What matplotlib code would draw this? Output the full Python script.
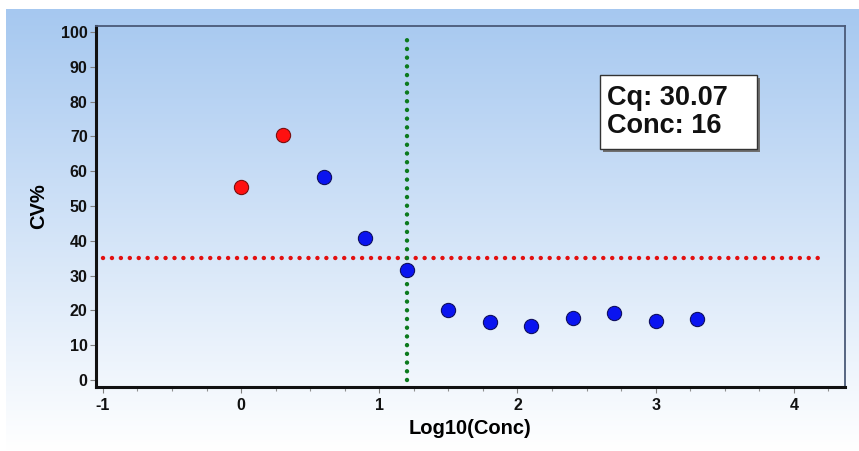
import numpy as np
import matplotlib
matplotlib.use("Agg")
import matplotlib.pyplot as plt
from matplotlib.patches import Rectangle
from matplotlib.ticker import MultipleLocator

plt.rcParams['font.family'] = ['Liberation Sans', 'DejaVu Sans']
plt.rcParams['axes.unicode_minus'] = False

# data
x_excl = [0.0, 0.3]
cv_excl = [55.5, 70.3]
x_incl = [0.6, 0.9, 1.2, 1.5, 1.8, 2.1, 2.4, 2.7, 3.0, 3.3]
cv_incl = [58.2, 40.8, 31.7, 20.2, 16.7, 15.6, 17.9, 19.4, 16.9, 17.4]
cv_limit = 35
lod_x = 1.2
xticks = [-1, 0, 1, 2, 3, 4]
yticks = list(range(0, 101, 10))
label_text = "Cq: 30.07\nConc: 16"

W, H = 859, 451
fig = plt.figure(figsize=(W / 100, H / 100), dpi=100)
fig.patch.set_facecolor("white")

# background gradient, light blue at top -> white at bottom
bg = fig.add_axes([6 / W, 0, 1 - 6 / W, 1 - 9 / H], zorder=-10)
top = np.array([166, 200, 240]) / 255
bot = np.array([255, 255, 255]) / 255
t = np.linspace(0, 1, 256)[:, None]
grad = top * (1 - t) + bot * t
bg.imshow(grad[:, None, :], aspect="auto", extent=[0, 1, 0, 1])
bg.axis("off")

ax = fig.add_axes([96 / W, 1 - 387 / H, (845 - 96) / W, (387 - 26) / H])
ax.patch.set_alpha(0)

ax.axhline(cv_limit, xmin=0.01, xmax=0.975, color="#e31010", lw=3.2,
           linestyle=(0, (0.01, 2.0)), dash_capstyle="round", zorder=2)
ax.plot([lod_x, lod_x], [0, 100], color="#0c7a1e", lw=3.2,
        linestyle=(0, (0.01, 1.95)), dash_capstyle="round", zorder=2)

ax.scatter(x_excl, cv_excl, s=105, color="#ff1010", edgecolor="#7a1010",
           linewidth=0.8, zorder=3)
ax.scatter(x_incl, cv_incl, s=105, color="#0a14f0", edgecolor="#101060",
           linewidth=0.8, zorder=4)

ax.set_xlim(-1.05, 4.37)
ax.set_ylim(-2, 101.7)
ax.set_xticks(xticks)
ax.set_yticks(yticks)
ax.xaxis.set_minor_locator(MultipleLocator(0.25))
for lab in ax.get_xticklabels() + ax.get_yticklabels():
    lab.set_fontweight("bold")
ax.tick_params(axis="both", which="major", labelsize=11.5, length=4,
               color="#808080", width=0.8, labelcolor="#111111")
ax.tick_params(axis="x", which="minor", length=3, color="#909090", width=0.8)
ax.tick_params(axis="x", pad=4)
ax.tick_params(axis="y", pad=2)

for side in ["left", "bottom"]:
    ax.spines[side].set_linewidth(2.2)
    ax.spines[side].set_color("#111111")
for side in ["top", "right"]:
    ax.spines[side].set_linewidth(1.3)
    ax.spines[side].set_color("#4a5a78")

ax.set_xlabel("Log10(Conc)", fontsize=14.5, fontweight="bold", labelpad=4)
ax.set_ylabel("CV%", fontsize=14.5, fontweight="bold", labelpad=9)

# info box with shadow (figure pixel coords)
bx0, bx1, by0, by1 = 600, 757, 75, 149
fig.patches.append(Rectangle((bx0 + 3, H - by1 - 3), bx1 - bx0, by1 - by0,
                             transform=None, facecolor="#707070",
                             edgecolor="none", zorder=5))
fig.patches.append(Rectangle((bx0, H - by1), bx1 - bx0, by1 - by0,
                             transform=None, facecolor="white",
                             edgecolor="#333333", linewidth=1.0, zorder=6))
fig.text((bx0 + 7) / W, 1 - 112 / H, label_text, fontsize=19.5,
         fontweight="bold", va="center", ha="left", linespacing=1.1,
         color="#111111", zorder=7)

fig.savefig("out.png", dpi=100)
